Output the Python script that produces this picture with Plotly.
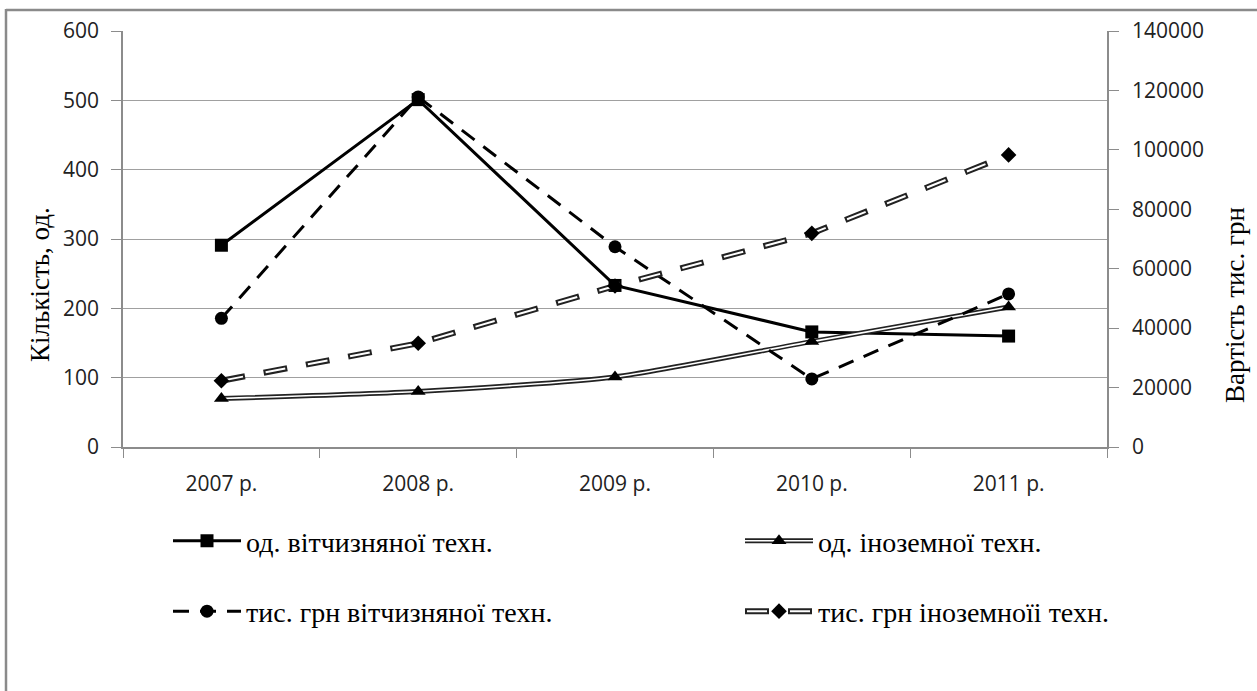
import plotly.graph_objects as go

# ---- data ----
years = ["2007 р.", "2008 р.", "2009 р.", "2010 р.", "2011 р."]
dom_units = [291, 501, 233, 166, 160]          # од. вітчизняної техн. (left axis)
for_units = [70, 80, 101, 152, 202]            # од. іноземної техн. (left axis)
dom_cost = [43300, 117800, 67400, 22900, 51500]  # тис. грн вітчизняної техн. (right axis)
for_cost = [22300, 34900, 54200, 71900, 98300]   # тис. грн іноземноїі техн. (right axis)

names = ["од. вітчизняної техн.", "од. іноземної техн.",
         "тис. грн вітчизняної техн.", "тис. грн іноземноїі техн."]

SERIF = "Liberation Serif"
SANS = "Open Sans"

fig = go.Figure()

# 1: solid black squares
fig.add_trace(go.Scatter(x=years, y=dom_units, name=names[0], mode="lines+markers",
                         line=dict(color="black", width=3),
                         marker=dict(symbol="square", size=13, color="black"),
                         legend="legend", legendgroup="g1"))
# 3: dashed black circles (right axis)
fig.add_trace(go.Scatter(x=years, y=dom_cost, name=names[2], mode="lines+markers", yaxis="y2",
                         line=dict(color="black", width=3, dash="16px,11px"),
                         marker=dict(symbol="circle", size=13, color="black"),
                         legend="legend", legendgroup="g3"))

# 2: double line (outer black, inner white) with triangles
fig.add_trace(go.Scatter(x=years, y=for_units, name=" ", mode="lines",
                         line=dict(color="#222", width=5, shape="spline", smoothing=0.6),
                         legend="legend2", legendgroup="g2", hoverinfo="skip"))
fig.add_trace(go.Scatter(x=years, y=for_units, name=" ", mode="lines",
                         line=dict(color="white", width=1.6, shape="spline", smoothing=0.6),
                         legend="legend3", legendgroup="g2", hoverinfo="skip"))
fig.add_trace(go.Scatter(x=years, y=for_units, name=names[1], mode="markers",
                         marker=dict(symbol="triangle-up", size=13, color="black"),
                         legend="legend4", legendgroup="g2"))

# 4: double dashed line with diamonds (right axis)
fig.add_trace(go.Scatter(x=years, y=for_cost, name=" ", mode="lines", yaxis="y2",
                         line=dict(color="#222", width=6, dash="24px,19px"),
                         legend="legend2", legendgroup="g4", hoverinfo="skip"))
fig.add_trace(go.Scatter(x=years, y=for_cost, name=" ", mode="lines", yaxis="y2",
                         line=dict(color="white", width=2, dash="0px,2px,20px,21px"),
                         legend="legend3", legendgroup="g4", hoverinfo="skip"))
fig.add_trace(go.Scatter(x=years, y=for_cost, name=names[3], mode="markers", yaxis="y2",
                         marker=dict(symbol="diamond", size=12, color="black"),
                         legend="legend4", legendgroup="g4"))

GRID = "#a0a0a0"
AX = "#8c8c8c"
tickfont = dict(family=SANS, size=21, color="#222")

leg_common = dict(orientation="v", traceorder="grouped", tracegroupgap=31, itemwidth=68,
                  bgcolor="rgba(0,0,0,0)", font=dict(family=SERIF, size=28, color="black"),
                  xanchor="left", yanchor="top", y=-0.166, itemclick=False, itemdoubleclick=False)
xl2 = (740 - 123) / 984


def px_x(p):
    return (p - 123) / 984


def px_y(p):
    return (447 - p) / 416


fig.update_layout(
    width=1257, height=691,
    margin=dict(l=123, r=150, t=31, b=244),
    paper_bgcolor="white", plot_bgcolor="white",
    showlegend=True,
    xaxis=dict(type="category", range=[-0.5, 4.5], tickson="boundaries",
               ticks="outside", ticklen=9, tickcolor=AX, showline=True, linecolor=AX, linewidth=1.5,
               showgrid=False, tickfont=tickfont, ticklabelstandoff=17),
    yaxis=dict(range=[0, 600], dtick=100, ticks="outside", ticklen=10, tickcolor=AX,
               showline=True, linecolor=AX, linewidth=1.5, gridcolor=GRID, gridwidth=1.3,
               tickfont=tickfont, ticklabelstandoff=8, zeroline=False),
    yaxis2=dict(range=[0, 140000], dtick=20000, overlaying="y", side="right", tickformat="d",
                ticks="outside", ticklen=10, tickcolor=AX, showline=True, linecolor=AX,
                linewidth=1.5, showgrid=False, tickfont=tickfont, ticklabelstandoff=9,
                zeroline=False),
    legend=dict(x=(168 - 123) / 984, **leg_common),
    legend2=dict(x=xl2, **leg_common),
    legend3=dict(x=xl2, **leg_common),
    legend4=dict(x=xl2, **leg_common),
    annotations=[
        dict(text="Кількість, од.", textangle=-90, xref="paper", yref="paper",
             x=px_x(40), y=px_y(285), xanchor="center", yanchor="middle",
             showarrow=False, font=dict(family=SERIF, size=27, color="black")),
        dict(text="Вартість тис. грн", textangle=-90, xref="paper", yref="paper",
             x=px_x(1235), y=px_y(305), xanchor="center", yanchor="middle",
             showarrow=False, font=dict(family=SERIF, size=27, color="black")),
    ],
    shapes=[
        dict(type="line", xref="paper", yref="paper", x0=px_x(6), x1=px_x(6),
             y0=px_y(9), y1=px_y(700), line=dict(color="#8a8a8a", width=2.5), layer="above"),
        dict(type="line", xref="paper", yref="paper", x0=px_x(6), x1=px_x(1265),
             y0=px_y(10), y1=px_y(10), line=dict(color="#8a8a8a", width=2.5), layer="above"),
    ],
)

fig.write_html("out.html", config={"displayModeBar": False},
               post_script="document.body.style.margin='0';document.body.style.overflow='hidden';")
